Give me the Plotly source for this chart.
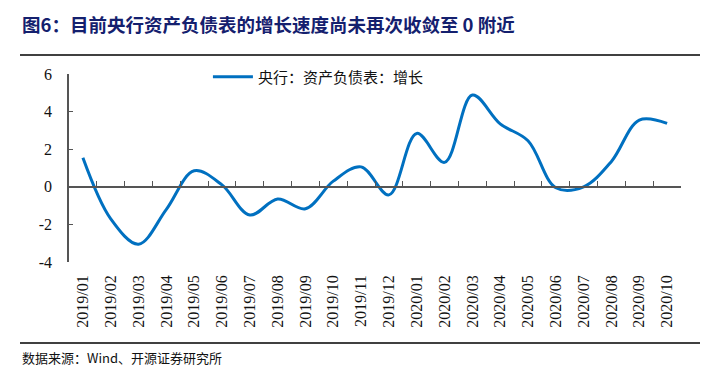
import plotly.graph_objects as go

categories = ["2019/01", "2019/02", "2019/03", "2019/04", "2019/05", "2019/06",
              "2019/07", "2019/08", "2019/09", "2019/10", "2019/11", "2019/12",
              "2020/01", "2020/02", "2020/03", "2020/04", "2020/05", "2020/06",
              "2020/07", "2020/08", "2020/09", "2020/10"]
growth = [1.55, -1.7, -3.05, -1.2, 0.85, 0.1, -1.5, -0.65, -1.17, 0.3, 1.06, -0.43,
          2.84, 1.3, 4.88, 3.35, 2.45, -0.05, 0.0, 1.35, 3.55, 3.37]
series_name = "央行：资产负债表：增长"
y_ticks = [-4, -2, 0, 2, 4, 6]
y_tick_text = ["-4", "-2", "0", "2", "4", "6"]

serif = "'Liberation Serif', 'Times New Roman', 'DejaVu Serif', serif"
cjk = "Noto Sans CJK SC"
n = len(categories)

# page body has an 8px default margin; compensate
off = 8
L, T, PW, PH = 69 - off, 74 - off, 612, 188

fig = go.Figure()
fig.add_trace(go.Scatter(
    x=categories, y=growth, mode="lines", name=series_name,
    line=dict(color="#0070C0", width=3, shape="spline", smoothing=1.0),
    xaxis="x", yaxis="y",
))
# invisible trace to carry the zero-line axis
fig.add_trace(go.Scatter(x=categories, y=growth, mode="lines", showlegend=False,
                         line=dict(width=0), hoverinfo="skip", xaxis="x2", yaxis="y"))

fig.update_layout(
    width=716, height=389,
    margin=dict(l=L, r=716 - L - PW, t=T, b=389 - T - PH, autoexpand=False),
    paper_bgcolor="white", plot_bgcolor="white",
    showlegend=True,
    legend=dict(x=0.227, y=1 - 3 / PH, xanchor="left", yanchor="middle",
                font=dict(family=cjk, size=15, color="#111"),
                bgcolor="rgba(0,0,0,0)", itemwidth=40),
    xaxis=dict(type="category", range=[-0.5, n - 0.5], showline=False, ticks="",
               showgrid=False, zeroline=False, tickangle=-90, automargin=False,
               tickfont=dict(family=serif, size=16, color="#111"),
               ticklabelstandoff=9),
    xaxis2=dict(type="category", range=[-0.5, n - 0.5], overlaying="x",
                anchor="free", position=0.4,
                showline=True, linecolor="#555", linewidth=1.5,
                ticks="inside", ticklen=5, tickcolor="#555", tickson="boundaries",
                showticklabels=False, showgrid=False, zeroline=False),
    yaxis=dict(range=[-4, 6], tickvals=y_ticks, ticktext=y_tick_text,
               showline=True, linecolor="#555",
               linewidth=1.5, ticks="inside", ticklen=4, tickcolor="#555",
               showgrid=False, zeroline=False, automargin=False,
               tickfont=dict(family=serif, size=16, color="#111"),
               ticklabelstandoff=12),
)

fig.add_annotation(text="<b>图6：目前央行资产负债表的增长速度尚未再次收敛至 0 附近</b>",
                   xref="paper", yref="paper", x=-49/PW, y=1 + (74 - 24) / PH,
                   xanchor="left", yanchor="middle", showarrow=False,
                   font=dict(family=cjk, size=18.5, color="#14206e"))
fig.add_annotation(text="数据来源：Wind、开源证券研究所",
                   xref="paper", yref="paper", x=-49/PW, y=-(357 - 262) / PH,
                   xanchor="left", yanchor="middle", showarrow=False,
                   font=dict(family=cjk, size=13, color="#111"))
fig.add_shape(type="line", xref="paper", yref="paper",
              x0=-49/PW, x1=(700 - 69)/PW, y0=1 + (74 - 55)/PH, y1=1 + (74 - 55)/PH,
              line=dict(color="black", width=1.5))
fig.add_shape(type="line", xref="paper", yref="paper",
              x0=-49/PW, x1=(700 - 69)/PW, y0=-(343 - 262)/PH, y1=-(343 - 262)/PH,
              line=dict(color="black", width=1.5))

fig.write_html("out.html")
